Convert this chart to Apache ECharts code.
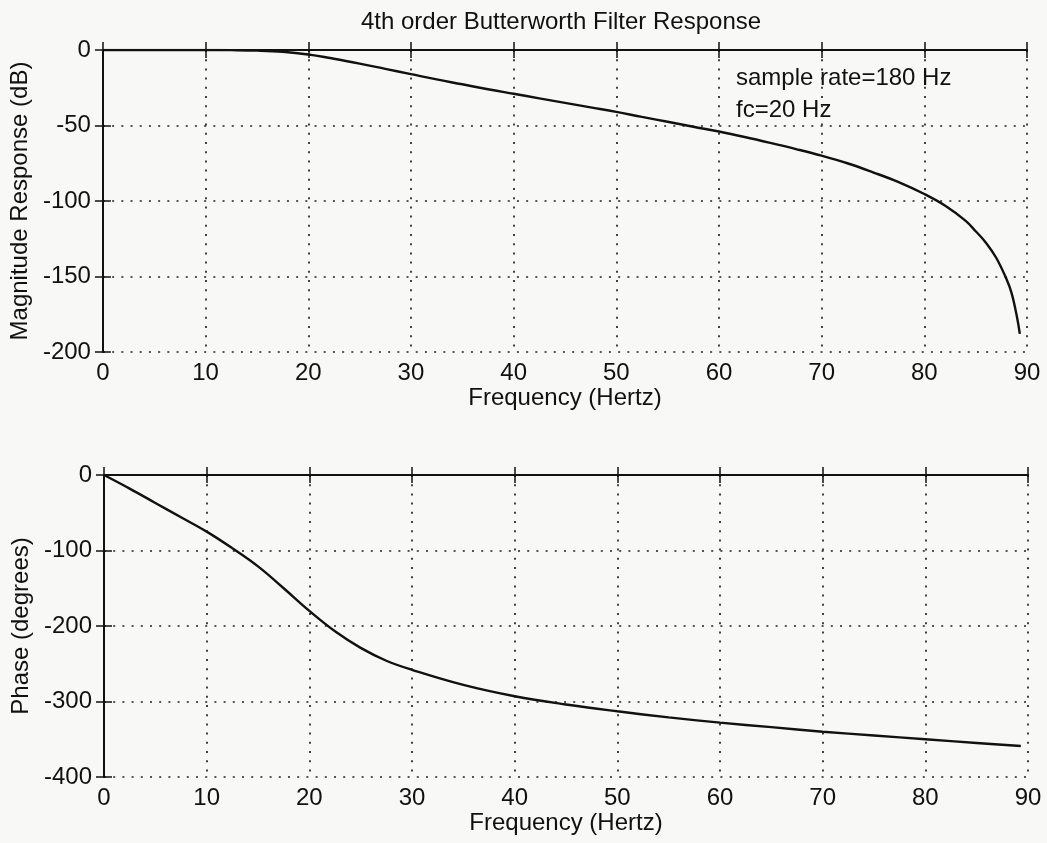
<!DOCTYPE html>
<html>
<head>
<meta charset="utf-8">
<script src="https://cdn.jsdelivr.net/npm/echarts@6/dist/echarts.min.js"></script>
<style>
html,body{margin:0;padding:0;background:#f8f8f7;}
#chart{width:1047px;height:843px;}
</style>
</head>
<body>
<div id="chart"></div>
<script>
// ---- data ----
const titleText = '4th order Butterworth Filter Response';
const annotation = ['sample rate=180 Hz', 'fc=20 Hz'];
const xTicks = [0, 10, 20, 30, 40, 50, 60, 70, 80, 90];
const magTicks = [-200, -150, -100, -50, 0];
const phaseTicks = [-400, -300, -200, -100, 0];

const magFreq = [0, 5, 10, 12.5, 15, 17.5, 20, 22.5, 25, 27.5, 30, 32.5, 35, 37.5, 40, 42.5, 45, 47.5, 50, 52.5, 55, 57.5, 60, 62.5, 65, 67.5, 70, 72.5, 75, 77.5, 80, 82, 84, 85, 86, 87, 88, 88.5, 89, 89.3];
const magDb   = [0, 0, 0, -0.1, -0.4, -1.2, -3, -5.8, -9, -12.5, -16, -19.5, -22.7, -26, -29, -32, -35, -38, -41, -44.3, -47.5, -50.8, -54, -57.6, -61.5, -65.6, -70, -75, -81, -87.5, -95.4, -103, -113, -120, -127.6, -137.6, -151.7, -161, -176, -188];

const phFreq = [0, 2.5, 5, 7.5, 10, 12.5, 15, 17.5, 20, 22.5, 25, 27.5, 30, 35, 40, 45, 50, 55, 60, 65, 70, 75, 80, 85, 89.3];
const phDeg  = [0, -18, -37, -56, -75, -97, -121, -150, -180, -207, -229, -246, -258, -278, -293, -304, -313, -321, -328, -334, -340, -345, -350, -355, -359];

// ---- chart ----
const FONT = 'Liberation Sans, Arial, Helvetica, sans-serif';
const FS = 24;
const INK = '#111';
const gridDots = { color: '#222', width: 1.7, type: [2, 7.2] };

function pairs(xs, ys) { return xs.map((x, i) => [x, ys[i]]); }

function xAxisPair(gridIndex) {
  return [{
    type: 'value', gridIndex, position: 'bottom',
    min: xTicks[0], max: xTicks[xTicks.length - 1], interval: 10,
    name: 'Frequency (Hertz)', nameLocation: 'middle', nameGap: 34,
    nameTextStyle: { fontFamily: FONT, fontSize: FS, color: INK },
    axisLine: { show: true, lineStyle: { color: INK, width: 2 } },
    axisTick: { show: true, inside: true, length: 8, lineStyle: { color: INK, width: 1.5 } },
    axisLabel: { fontFamily: FONT, fontSize: FS, color: INK, margin: 9 },
    splitLine: { show: true, lineStyle: gridDots }
  }, {
    type: 'value', gridIndex, position: 'top',
    min: xTicks[0], max: xTicks[xTicks.length - 1], interval: 10,
    axisLine: { show: true, lineStyle: { color: INK, width: 2 } },
    axisTick: { show: true, inside: true, length: 8, lineStyle: { color: INK, width: 1.5 } },
    axisLabel: { show: false },
    splitLine: { show: false }
  }];
}

function yAxisPair(gridIndex, ticks, step, name) {
  return [{
    type: 'value', gridIndex, position: 'left',
    min: ticks[0], max: ticks[ticks.length - 1], interval: step,
    name, nameLocation: 'middle', nameGap: 68,
    nameTextStyle: { fontFamily: FONT, fontSize: FS, color: INK },
    axisLine: { show: true, lineStyle: { color: INK, width: 2 } },
    axisTick: { show: true, inside: true, length: 8, lineStyle: { color: INK, width: 1.5 } },
    axisLabel: { fontFamily: FONT, fontSize: FS, color: INK, margin: 12 },
    splitLine: { show: true, lineStyle: gridDots }
  }, {
    type: 'value', gridIndex, position: 'right',
    min: ticks[0], max: ticks[ticks.length - 1], interval: step,
    axisLine: { show: true, lineStyle: { color: INK, width: 2 } },
    axisTick: { show: true, inside: true, length: 8, lineStyle: { color: INK, width: 1.5 } },
    axisLabel: { show: false },
    splitLine: { show: false }
  }];
}

const chart = echarts.init(document.getElementById('chart'), null, { renderer: 'canvas' });
chart.setOption({
  backgroundColor: '#f8f8f7',
  animation: false,
  grid: [
    { left: 102, top: 50, width: 925, height: 302 },
    { left: 104, top: 475, width: 924, height: 302 }
  ],
  xAxis: [...xAxisPair(0), ...xAxisPair(1)],
  yAxis: [
    ...yAxisPair(0, magTicks, 50, 'Magnitude Response (dB)'),
    ...yAxisPair(1, phaseTicks, 100, 'Phase (degrees)')
  ],
  graphic: [
    { type: 'text', x: 561, y: 22, style: { text: titleText, textAlign: 'center', textVerticalAlign: 'middle', font: FS + 'px ' + FONT, fill: INK } },
    { type: 'text', x: 736, y: 78, style: { text: annotation[0], textAlign: 'left', textVerticalAlign: 'middle', font: FS + 'px ' + FONT, fill: INK } },
    { type: 'text', x: 736, y: 110, style: { text: annotation[1], textAlign: 'left', textVerticalAlign: 'middle', font: FS + 'px ' + FONT, fill: INK } }
  ],
  series: [
    {
      type: 'line', xAxisIndex: 0, yAxisIndex: 0,
      data: pairs(magFreq, magDb),
      showSymbol: false, smooth: 0.4,
      lineStyle: { color: INK, width: 2.4 }
    },
    {
      type: 'line', xAxisIndex: 2, yAxisIndex: 2,
      data: pairs(phFreq, phDeg),
      showSymbol: false, smooth: 0.4,
      lineStyle: { color: INK, width: 2.4 }
    }
  ]
});
</script>
</body>
</html>
